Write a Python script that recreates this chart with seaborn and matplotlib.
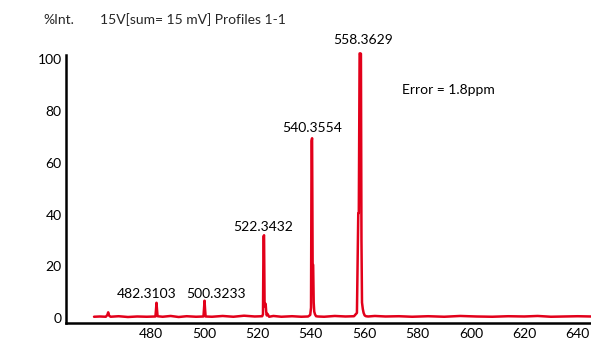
import matplotlib
matplotlib.use("Agg")
import matplotlib.pyplot as plt
import seaborn as sns
import pandas as pd

# ---- data ----
mz = [458.8, 461.0, 463.2, 463.8, 464.1, 464.4, 465.0, 468.0, 471.5, 475.0, 478.5,
      481.8, 482.0, 482.2, 482.4, 482.6, 484.5, 487.5, 490.5, 493.5, 497.0,
      499.8, 500.0, 500.2, 500.4, 500.6, 503.0, 507.0, 511.0, 515.0, 519.0,
      521.8, 522.1, 522.3, 522.5, 522.7, 522.9, 523.1, 523.3, 523.5, 523.8, 524.4, 526.0,
      529.0, 533.0, 536.5, 539.0,
      539.8, 540.1, 540.3, 540.5, 540.7, 540.9, 541.1, 541.3, 541.6, 542.0, 542.7, 545.0,
      549.0, 553.0, 556.2,
      557.3, 557.8, 558.0, 558.3, 558.6, 558.8, 559.0, 559.2, 559.5, 559.8, 560.2, 560.7, 561.5,
      564.0, 568.0, 573.0, 578.0, 584.0, 590.0, 596.0, 602.0, 608.0, 614.0, 620.0,
      625.0, 630.0, 635.0, 640.0, 645.0]
intensity = [0.5, 0.6, 0.5, 1.2, 2.2, 1.0, 0.5, 0.7, 0.4, 0.6, 0.5,
             0.6, 3.0, 5.9, 3.2, 0.7, 0.5, 0.8, 0.4, 0.7, 0.5,
             0.6, 3.5, 6.7, 3.4, 0.6, 0.5, 0.8, 0.5, 0.9, 0.6,
             0.7, 1.5, 31.5, 32.0, 5.0, 4.5, 5.5, 2.5, 1.0, 1.6, 0.5, 0.8,
             0.5, 0.7, 0.5, 0.6,
             1.2, 4.0, 68.5, 69.5, 21.0, 20.5, 6.0, 2.5, 1.4, 0.7, 0.6, 0.5,
             0.8, 0.6, 0.7,
             2.0, 40.5, 40.6, 102.3, 102.0, 102.2, 30.0, 6.0, 3.5, 2.0, 1.0, 0.7, 0.6,
             0.8, 0.6, 0.7, 0.5, 0.7, 0.5, 0.8, 0.6, 0.5, 0.7, 0.6,
             0.8, 0.5, 0.6, 0.7, 0.6]
xticks = [480, 500, 520, 540, 560, 580, 600, 620, 640]
yticks = [0, 20, 40, 60, 80, 100]
peak_labels = ["482.3103", "500.3233", "522.3432", "540.3554", "558.3629"]
label_pos = [(478.5, 9.3), (504.5, 9.3), (522.0, 35.2), (540.6, 73.4), (559.6, 107.5)]

sns.set_theme(style="white")
plt.rcParams['font.family'] = ['Lato', 'DejaVu Sans']

fig = plt.figure(figsize=(5.91, 3.39), dpi=100)
ax = fig.add_axes([0.1117, 0.0481, 0.8883, 0.815])

df = pd.DataFrame({"mz": mz, "int": intensity})
sns.lineplot(data=df, x="mz", y="int", sort=False, estimator=None,
             color="#E2001A", linewidth=1.8, ax=ax)

ax.set_xlim(448.3, 645.0)
ax.set_ylim(-1.8, 105)
ax.set_xticks(xticks)
ax.set_yticks(yticks)
ax.set_xlabel("")
ax.set_ylabel("")
ax.tick_params(axis="both", length=0, labelsize=10, colors="black", pad=3)
ax.tick_params(axis="x", pad=4)
for s in ["top", "right"]:
    ax.spines[s].set_visible(False)
for s in ["left", "bottom"]:
    ax.spines[s].set_color("black")
    ax.spines[s].set_linewidth(1.8)
ax.spines["left"].set_bounds(-1.8, 101.5)

for lab, (x, y) in zip(peak_labels, label_pos):
    ax.text(x, y, lab, ha="center", va="center", fontsize=10, color="black")

ax.text(591.5, 88.1, "Error = 1.8ppm", ha="center", va="center", fontsize=10, color="black")

fig.text(0.0728, 0.941, "%Int.", ha="left", va="center", fontsize=10)
fig.text(0.169, 0.941, "15V[sum= 15 mV] Profiles 1-1", ha="left", va="center", fontsize=10)

fig.savefig("out.png", dpi=100)
